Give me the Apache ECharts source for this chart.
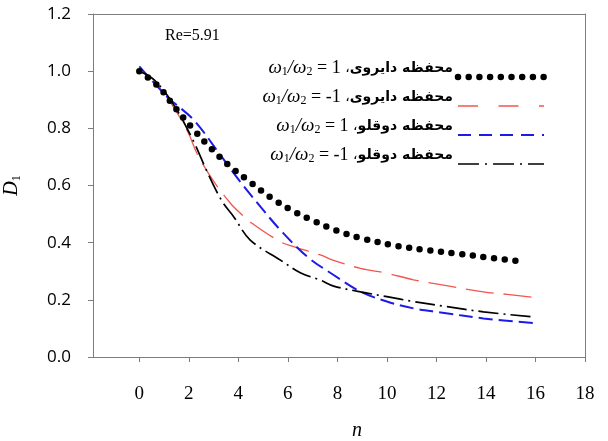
<!DOCTYPE html>
<html><head><meta charset="utf-8">
<script src="https://cdn.jsdelivr.net/npm/echarts@6/dist/echarts.min.js"></script>
<style>html,body{margin:0;padding:0;background:#fff}#c{width:608px;height:441px}</style>
</head><body><div id="c"></div>
<script>
// ---- data ----
const xTickValues = [0, 2, 4, 6, 8, 10, 12, 14, 16, 18];
const yTickValues = [0, 0.2, 0.4, 0.6, 0.8, 1.0, 1.2];

const chamber = ['محفظه دایروی', 'محفظه دایروی', 'محفظه دوقلو', 'محفظه دوقلو'];
const ratio = ['1', '-1', '1', '-1'];

// circular chamber, w1/w2 = 1 (dots)
const circPlusN = [0, 0.78, 1.45, 2.13, 2.87, 3.68, 4.51, 5.33, 6.18, 6.99, 7.92, 9.0, 10.46, 11.68, 12.9, 14.1, 15.6];
const circPlusD = [1.0, 0.946, 0.872, 0.802, 0.732, 0.666, 0.61, 0.557, 0.512, 0.478, 0.444, 0.415, 0.388, 0.373, 0.361, 0.348, 0.333];

// circular chamber, w1/w2 = -1 (red long dash)
const circMinusN = [0, 0.5, 1, 1.5, 2, 2.33, 3, 3.68, 4.08, 4.55, 5.7, 6.23, 7.31, 7.85, 8.93, 10, 11.08, 12.23, 13.9, 14.86, 16];
const circMinusD = [1.0, 0.975, 0.922, 0.858, 0.78, 0.712, 0.615, 0.538, 0.503, 0.468, 0.403, 0.386, 0.357, 0.338, 0.31, 0.293, 0.27, 0.252, 0.228, 0.219, 0.208];

// twin chamber, w1/w2 = 1 (blue dash)
const twinPlusN = [0, 1.12, 2.2, 3.27, 4.08, 4.89, 5.7, 6.78, 7.85, 8.93, 10, 11.08, 12.17, 13.9, 16];
const twinPlusD = [1.017, 0.911, 0.829, 0.707, 0.613, 0.526, 0.444, 0.351, 0.287, 0.229, 0.194, 0.170, 0.156, 0.135, 0.118];

// twin chamber, w1/w2 = -1 (black dash-dot)
const twinMinusN = [0, 0.6, 1.39, 2.2, 2.73, 3.34, 3.81, 4.48, 5.7, 6.5, 7.31, 7.85, 8.93, 10, 11.08, 12.43, 13.9, 15.8];
const twinMinusD = [1.0, 0.97, 0.882, 0.753, 0.65, 0.545, 0.491, 0.409, 0.339, 0.295, 0.269, 0.248, 0.228, 0.211, 0.194, 0.176, 0.158, 0.141];

const names = chamber.map((c, i) => c + '، ω1/ω2 = ' + ratio[i]);
const pair = (xs, ys) => xs.map((x, i) => [x, ys[i]]);

const chart = echarts.init(document.getElementById('c'), null, {renderer: 'canvas'});

const baseLine = {type: 'line', smooth: 0.35, showSymbol: false, symbol: 'none', silent: true, xAxisIndex: 0, yAxisIndex: 0};
const axisGray = '#7d7d7d';
const borderAxis = () => ({show: true, onZero: false, lineStyle: {color: axisGray, width: 1}});

const styles = [
  {color: '#000', width: 6.5, type: [0, 10.7], cap: 'round'},
  {color: '#f2554f', width: 1.3, type: [28, 10]},
  {color: '#1c1ce6', width: 2, type: [14, 6]},
  {color: '#000', width: 1.7, type: [20, 5, 2, 5]}
];
const legendStyles = [
  {color: '#000', width: 6.5, type: [0, 10.7], cap: 'round'},
  {color: '#f2554f', width: 1.3, type: [20, 20.5]},
  {color: '#1c1ce6', width: 2, type: [13, 8]},
  {color: '#000', width: 1.7, type: [21, 6, 2, 6]}
];

chart.setOption({
  animation: false,
  backgroundColor: '#fff',
  title: {
    text: 'Re=5.91', left: 160, top: 23,
    textStyle: {fontFamily: 'Liberation Serif', fontSize: 16, fontWeight: 'normal', color: '#000'}
  },
  grid: {left: 93, right: 23, top: 14, bottom: 84, containLabel: false, outerBoundsMode: 'none'},
  legend: {
    orient: 'vertical', left: 256, top: 53, align: 'right',
    itemWidth: 86, itemHeight: 14, itemGap: -9,
    itemStyle: {opacity: 0},
    data: names.map((n, i) => ({name: n, lineStyle: legendStyles[i]})),
    formatter: function (name) {
      const i = names.indexOf(name);
      return '{w|ω}{b|1}{w|/ω}{b|2}{t| = ' + ratio[i] + ' }{c|،}{fa|' + chamber[i] + '}';
    },
    textStyle: {
      width: 192, align: 'right', color: '#000', lineHeight: 20, padding: [0, 0, 18, 0],
      rich: {
        w: {fontFamily: 'Liberation Serif', fontStyle: 'italic', fontSize: 19, color: '#000', lineHeight: 20},
        b: {fontFamily: 'Liberation Serif', fontSize: 12, color: '#000', lineHeight: 11, verticalAlign: 'bottom'},
        t: {fontFamily: 'Liberation Serif', fontSize: 18, color: '#000', lineHeight: 20},
        c: {fontFamily: 'DejaVu Sans', fontSize: 14, color: '#000', lineHeight: 20},
        fa: {fontFamily: 'DejaVu Sans', fontWeight: 'bold', fontSize: 14, color: '#000', lineHeight: 20}
      }
    }
  },
  xAxis: [{
    type: 'value', min: -1.87, max: 18,
    name: 'n', nameLocation: 'middle', nameGap: 64,
    nameTextStyle: {fontFamily: 'Liberation Serif', fontStyle: 'italic', fontSize: 20, color: '#000', padding: [0, 0, 0, 36]},
    axisLine: borderAxis(),
    axisTick: {show: true, length: 5, inside: false, customValues: xTickValues, lineStyle: {color: axisGray}},
    axisLabel: {customValues: xTickValues, margin: 28, fontFamily: 'Liberation Serif', fontSize: 19, color: '#000'},
    splitLine: {show: false}
  }, {
    type: 'value', min: -1.87, max: 18, position: 'top',
    axisLine: borderAxis(), axisTick: {show: false}, axisLabel: {show: false}, splitLine: {show: false}
  }],
  yAxis: [{
    type: 'value', min: 0, max: 1.2, interval: 0.2,
    name: '{d|D}{s|1}', nameLocation: 'middle', nameGap: 70, nameRotate: 90,
    nameTextStyle: {rich: {
      d: {fontFamily: 'Liberation Serif', fontStyle: 'italic', fontSize: 20, color: '#000', lineHeight: 22},
      s: {fontFamily: 'Liberation Serif', fontSize: 12, color: '#000', lineHeight: 12, verticalAlign: 'bottom'}
    }},
    axisLine: borderAxis(),
    axisTick: {show: true, length: 5, inside: false, lineStyle: {color: axisGray}},
    axisLabel: {margin: 22, fontFamily: 'Open Sans', fontSize: 17, color: '#000', formatter: v => v.toFixed(1)},
    splitLine: {show: false}
  }, {
    type: 'value', min: 0, max: 1.2, interval: 0.2, position: 'right',
    axisLine: borderAxis(), axisTick: {show: false}, axisLabel: {show: false}, splitLine: {show: false}
  }],
  series: [
    Object.assign({}, baseLine, {name: names[0], data: pair(circPlusN, circPlusD), z: 5,
      lineStyle: styles[0], itemStyle: {color: styles[0].color}}),
    Object.assign({}, baseLine, {name: names[1], data: pair(circMinusN, circMinusD),
      lineStyle: styles[1], itemStyle: {color: styles[1].color}}),
    Object.assign({}, baseLine, {name: names[2], data: pair(twinPlusN, twinPlusD),
      lineStyle: styles[2], itemStyle: {color: styles[2].color}}),
    Object.assign({}, baseLine, {name: names[3], data: pair(twinMinusN, twinMinusD),
      lineStyle: styles[3], itemStyle: {color: styles[3].color}})
  ]
});
</script></body></html>
